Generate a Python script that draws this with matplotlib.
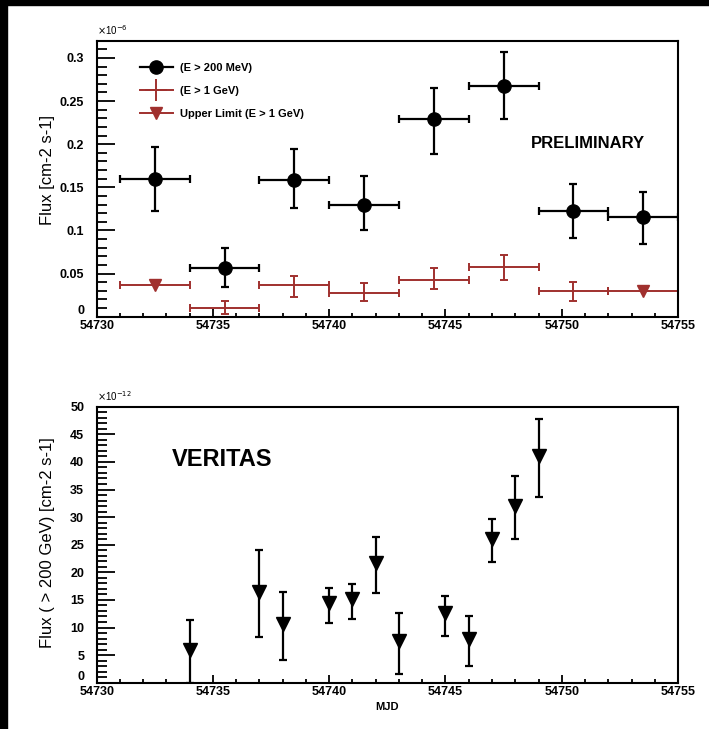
import numpy as np
import matplotlib
matplotlib.use("Agg")
import matplotlib.pyplot as plt
from matplotlib.patches import Rectangle
from matplotlib.lines import Line2D
from matplotlib.ticker import MultipleLocator, FormatStrFormatter

plt.rcParams["font.family"] = ["Liberation Sans", "DejaVu Sans"]

# Fermi-LAT bins (3 day bins)
lat_mjd = [54732.5, 54735.5, 54738.5, 54741.5, 54744.5, 54747.5, 54750.5, 54753.5]
lat_halfbin = [1.5, 1.5, 1.5, 1.5, 1.5, 1.5, 1.5, 1.5]
lat_flux = [0.160, 0.056, 0.159, 0.130, 0.229, 0.268, 0.122, 0.115]
lat_err_lo = [0.037, 0.022, 0.033, 0.030, 0.040, 0.039, 0.031, 0.031]
lat_err_hi = [0.037, 0.024, 0.035, 0.033, 0.036, 0.039, 0.032, 0.030]

# E > 1 GeV detections
gev_mjd = [54735.5, 54738.5, 54741.5, 54744.5, 54747.5, 54750.5]
gev_halfbin = [1.5, 1.5, 1.5, 1.5, 1.5, 1.5]
gev_flux = [0.0104, 0.0366, 0.0270, 0.0423, 0.0577, 0.0296]
gev_err_lo = [0.0074, 0.0136, 0.0090, 0.0103, 0.0154, 0.0116]
gev_err_hi = [0.0076, 0.0104, 0.0115, 0.0142, 0.0133, 0.0104]

# E > 1 GeV upper limits
ul_mjd = [54732.5, 54753.5]
ul_halfbin = [1.5, 1.5]
ul_flux = [0.0366, 0.0296]

# VERITAS nightly fluxes (x 1e-12)
ver_mjd = [54734, 54737, 54738, 54740, 54741, 54742, 54743, 54745, 54746, 54747, 54748, 54749]
ver_flux = [5.95, 16.5, 10.7, 14.5, 15.2, 21.6, 7.5, 12.7, 7.9, 26.1, 32.1, 41.0]
ver_upper = [11.4, 24.0, 16.4, 17.2, 17.9, 26.4, 12.7, 15.7, 12.0, 29.6, 37.5, 47.8]
ver_lower = [0.0, 8.2, 4.1, 10.9, 11.6, 16.2, 1.6, 8.5, 3.0, 21.9, 26.1, 33.6]

red = "#a0302e"

fig = plt.figure(figsize=(7.09, 7.29), dpi=100)
ax1 = fig.add_axes([0.1364, 0.5656, 0.8199, 0.3786])
ax2 = fig.add_axes([0.1364, 0.0635, 0.8199, 0.3786])

# black frame strips of the original screenshot
fig.patches.append(Rectangle((0, 1 - 5 / 729), 1, 5 / 729, transform=fig.transFigure,
                             color="black", zorder=10))
fig.patches.append(Rectangle((0, 0), 7 / 709, 1, transform=fig.transFigure,
                             color="black", zorder=10))

# --- top panel ---
ax1.errorbar(lat_mjd, lat_flux, xerr=lat_halfbin, yerr=[lat_err_lo, lat_err_hi],
             fmt="o", color="black", ms=9.5, elinewidth=1.6, capsize=3.2,
             capthick=1.6, zorder=3)
ax1.errorbar(gev_mjd, gev_flux, xerr=gev_halfbin, yerr=[gev_err_lo, gev_err_hi],
             fmt="none", ecolor=red, elinewidth=1.4, capsize=3.2, capthick=1.4, zorder=2)
ax1.errorbar(ul_mjd, ul_flux, xerr=ul_halfbin, fmt="v", color=red, ms=8.5,
             elinewidth=1.4, capsize=3.2, capthick=1.4, zorder=2)

ax1.set_xlim(54730, 54755)
ax1.set_ylim(0, 0.32)
ax1.yaxis.set_major_locator(MultipleLocator(0.05))
ax1.yaxis.set_minor_locator(MultipleLocator(0.01))
ax1.yaxis.set_major_formatter(FormatStrFormatter("%g"))
ax1.set_ylabel("Flux [cm-2 s-1]", fontsize=12)
ax1.yaxis.set_label_coords(-0.072, 0.53)
ax1.text(0.0, 1.012, r"$\times$10$^{-6}$", transform=ax1.transAxes, fontsize=7,
         ha="left", va="bottom")
ax1.text(0.845, 0.628, "PRELIMINARY", transform=ax1.transAxes, fontsize=12,
         fontweight="bold", ha="center", va="center")

handles = [
    Line2D([], [], color="black", marker="o", ms=9.5, lw=1.6),
    Line2D([], [], color=red, marker="+", ms=16, mew=1.4, lw=1.4),
    Line2D([], [], color=red, marker="v", ms=8.5, lw=1.4),
]
labels = ["(E > 200 MeV)", "(E > 1 GeV)", "Upper Limit (E > 1 GeV)"]
leg = ax1.legend(handles, labels, loc="upper left", bbox_to_anchor=(0.074, 0.92),
                 frameon=False, fontsize=8, borderpad=0, borderaxespad=0,
                 handlelength=3.0, handletextpad=0.6, labelspacing=1.18)
for t in leg.get_texts():
    t.set_fontweight("bold")

# --- bottom panel ---
ver_err_lo = np.array(ver_flux) - np.array(ver_lower)
ver_err_hi = np.array(ver_upper) - np.array(ver_flux)
ax2.errorbar(ver_mjd, ver_flux, yerr=[ver_err_lo, ver_err_hi], fmt="v", color="black",
             ms=10, elinewidth=1.6, capsize=3.2, capthick=1.6)

ax2.set_xlim(54730, 54755)
ax2.set_ylim(0, 50)
ax2.yaxis.set_major_locator(MultipleLocator(5))
ax2.yaxis.set_minor_locator(MultipleLocator(1))
ax2.set_ylabel("Flux ( > 200 GeV) [cm-2 s-1]", fontsize=12)
ax2.yaxis.set_label_coords(-0.072, 0.506)
ax2.set_xlabel("MJD", fontsize=8, fontweight="bold", labelpad=3)
ax2.text(0.0, 1.012, r"$\times$10$^{-12}$", transform=ax2.transAxes, fontsize=7,
         ha="left", va="bottom")
ax2.text(0.216, 0.807, "VERITAS", transform=ax2.transAxes, fontsize=17,
         fontweight="bold", ha="center", va="center")

for ax in (ax1, ax2):
    ax.xaxis.set_major_locator(MultipleLocator(5))
    ax.xaxis.set_minor_locator(MultipleLocator(1))
    ax.xaxis.set_major_formatter(FormatStrFormatter("%d"))
    ax.tick_params(axis="x", which="major", direction="in", length=6, width=1.3,
                   top=False, labelsize=9, pad=2.5)
    ax.tick_params(axis="x", which="minor", direction="in", length=3, width=1.3, top=False)
    ax.tick_params(axis="y", which="major", direction="in", length=13, width=1.3,
                   right=False, labelsize=9, pad=9)
    ax.tick_params(axis="y", which="minor", direction="in", length=7, width=1.3, right=False)
    for lab in ax.get_xticklabels() + ax.get_yticklabels():
        lab.set_fontweight("bold")
    # the "0" label sits just above the axis line, as in the original
    for tick in ax.yaxis.get_major_ticks():
        if abs(tick.get_loc()) < 1e-9:
            tick.label1.set_verticalalignment("bottom")
    for s in ax.spines.values():
        s.set_linewidth(1.5)

fig.savefig("out.png", dpi=100)
plt.close()
